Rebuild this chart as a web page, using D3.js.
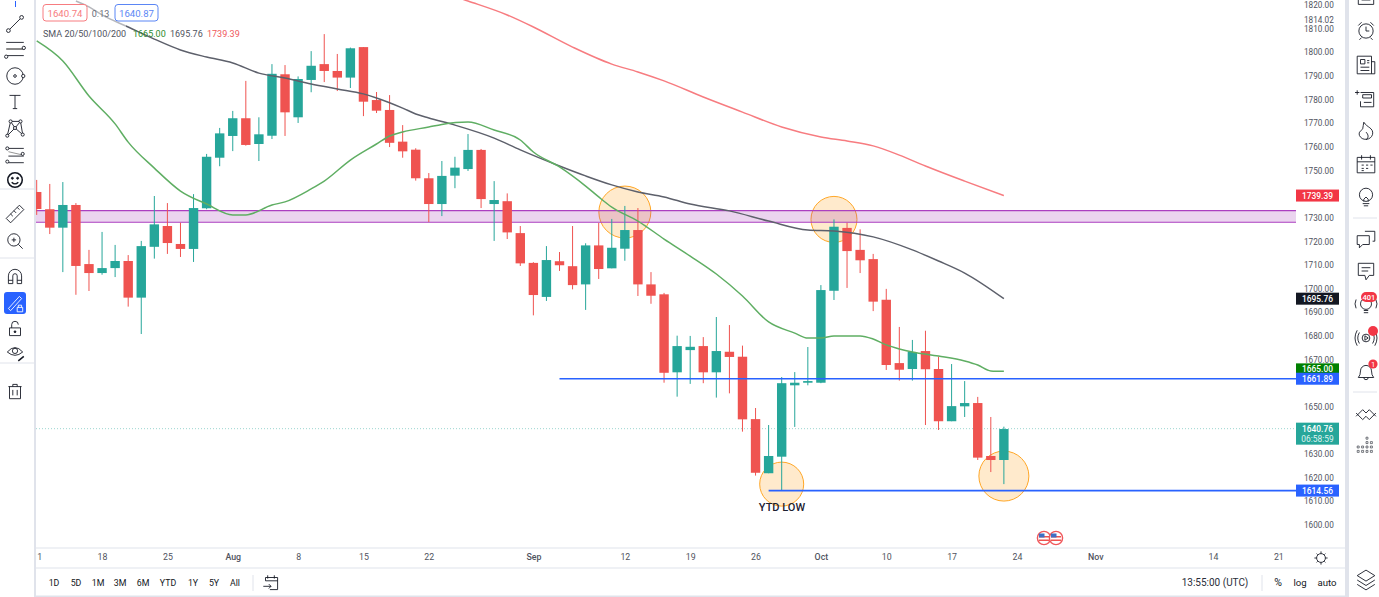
<!DOCTYPE html>
<html><head><meta charset="utf-8">
<style>html,body{margin:0;padding:0;background:#fff;overflow:hidden}svg{display:block}text{font-family:Roboto,sans-serif}</style>
<script src="https://cdn.jsdelivr.net/npm/d3@7"></script>
</head><body><svg id="c" width="1379" height="597"></svg>
<script>
// ---------- data (prices), one entry per trading day
const opens=[1740.9,1733.6,1725.8,1735.4,1710.4,1706.6,1708.7,1711.7,1696.2,1717.7,1726.5,1718.9,1716.8,1734.0,1755.4,1764.6,1772.1,1761.2,1764.7,1790.7,1772.5,1788.3,1795.0,1792.1,1789.3,1802.2,1779.8,1775.6,1762.2,1758.8,1746.7,1735.8,1747.8,1750.6,1758.7,1735.8,1737.0,1723.5,1710.9,1696.5,1711.6,1709.5,1701.8,1718.3,1708.6,1716.9,1724.8,1701.8,1697.6,1664.6,1674.0,1675.7,1664.6,1673.3,1671.2,1644.8,1621.9,1628.9,1659.1,1660.2,1660.2,1699.1,1725.7,1716.4,1712.5,1695.3,1668.5,1666.0,1673.6,1666.0,1643.9,1650.2,1651.6,1629.2,1627.5];
const highs=[1746.0,1744.3,1745.1,1736.2,1716.4,1724.0,1718.5,1714.2,1720.2,1739.2,1736.2,1727.9,1740.0,1757.0,1768.0,1775.2,1787.9,1772.5,1795.0,1794.6,1789.8,1800.5,1807.7,1799.3,1802.0,1802.2,1783.2,1781.9,1769.2,1759.4,1748.9,1754.0,1755.8,1765.4,1759.1,1745.5,1740.3,1726.5,1711.2,1718.0,1715.5,1726.5,1719.2,1727.8,1729.5,1735.0,1734.1,1707.0,1698.2,1680.1,1680.0,1679.5,1688.0,1684.6,1675.9,1649.5,1642.3,1662.6,1664.7,1675.3,1701.5,1729.3,1727.9,1725.1,1714.7,1699.9,1683.8,1678.3,1682.2,1671.2,1668.1,1660.9,1654.2,1645.7,1641.6];
const lows=[1731.2,1723.1,1707.0,1697.4,1699.0,1705.9,1704.9,1692.4,1680.8,1712.7,1714.7,1713.4,1711.3,1733.6,1751.8,1758.2,1760.5,1754.0,1763.3,1764.6,1770.1,1783.1,1787.4,1783.6,1784.9,1773.0,1774.3,1759.9,1755.4,1745.7,1728.2,1730.7,1742.5,1749.8,1734.1,1720.2,1721.0,1709.6,1688.7,1694.8,1707.5,1699.7,1691.0,1704.1,1708.6,1711.8,1696.9,1693.6,1660.2,1654.3,1659.7,1660.0,1653.9,1655.7,1639.5,1620.9,1621.9,1614.8,1641.5,1659.1,1660.0,1695.2,1700.3,1706.6,1690.5,1665.6,1661.1,1661.1,1642.3,1640.2,1643.9,1645.7,1627.5,1622.4,1617.3];
const closes=[1733.7,1725.8,1735.4,1709.6,1706.6,1708.7,1711.7,1696.2,1718.0,1727.2,1719.3,1716.8,1734.1,1755.8,1765.7,1772.1,1760.8,1765.3,1790.9,1774.6,1788.7,1794.3,1792.1,1789.3,1801.7,1779.1,1775.3,1761.7,1758.1,1746.7,1735.8,1747.7,1751.2,1758.7,1737.9,1737.5,1723.8,1710.7,1697.3,1712.1,1709.9,1701.5,1718.3,1708.3,1717.3,1724.8,1701.8,1697.0,1664.4,1675.7,1675.4,1664.6,1673.6,1671.1,1644.7,1622.1,1629.2,1660.0,1660.2,1660.9,1699.4,1726.2,1715.9,1712.0,1694.5,1667.7,1665.7,1673.2,1665.9,1643.9,1650.3,1651.6,1628.5,1627.5,1640.6];

const sma20Idx=[0,2,4,6,7,9,11,13,15,16,18,19,21,22,24,26,27,28,30,31,33,35,37,38,40,42,43,44,46,48,50,52,54,56,58,59,60,61,63,64,65,66,67,69,71,72,73,74];
const sma20Val=[1804.8,1796.3,1781.5,1769.7,1762.0,1751.0,1741.3,1735.8,1731.2,1731.2,1735.4,1736.7,1742.2,1745.5,1754.4,1761.2,1764.6,1766.3,1768.4,1769.5,1770.5,1767.1,1762.9,1757.8,1751.5,1743.4,1738.8,1734.5,1728.6,1721.0,1713.8,1706.2,1696.9,1685.9,1681.2,1679.1,1679.1,1680.0,1680.0,1678.7,1676.2,1674.5,1673.2,1671.5,1669.4,1667.7,1665.2,1665.0];
const sma50Idx=[3,4,5,7,9,11,13,15,17,19,21,23,25,26,28,29,30,32,35,37,40,42,44,46,48,50,53,56,59,61,64,67,69,71,74];
const sma50Val=[1821.7,1819.2,1815.8,1810.7,1805.6,1801.0,1798.0,1795.5,1791.2,1789.1,1786.6,1784.5,1782.4,1780.7,1776.4,1773.9,1772.2,1769.2,1763.7,1758.7,1751.9,1747.7,1743.9,1740.9,1738.8,1735.8,1732.9,1728.6,1724.8,1724.4,1721.9,1716.4,1711.7,1706.6,1695.76];
const sma200Idx=[30,33,36,38,41,44,46,48,51,54,57,60,62,64,66,68,71,74];
const sma200Val=[1827.2,1821.7,1815.8,1810.7,1802.2,1795.0,1791.7,1787.9,1781.1,1774.7,1768.4,1764.2,1762.5,1760.4,1756.5,1751.9,1745.5,1739.39];

const priceTicks=[1600,1610,1620,1630,1650,1670,1680,1690,1700,1710,1720,1730,1750,1760,1770,1780,1790,1800,1810,1820];
const timeIdx=[0,5,10,15,20,25,30,38,45,50,55,60,65,70,75,81,90,95];
const timeLabels=["11","18","25","Aug","8","15","22","Sep","12","19","26","Oct","10","17","24","Nov","14","21"];

const zonePrices=[1733,1728.1];
const levelPrices=[1661.89,1614.56];
const levelStart=[40,56];
const circleIdx=[45,61,57,74];
const circlePrice=[1732.4,1729.3,1617.3,1620.7];
const circleR=[26,23,22,25];
const lastPrice=1640.76;
const tagVals=["1739.39","1695.76","1665.00","1661.89","1614.56"];
const tagColors=["#f23645","#131722","#008000","#2962ff","#2962ff"];
const tagNudge=[0,0,-2,0,0];
const ranges=["1D","5D","1M","3M","6M","YTD","1Y","5Y","All"];

// ---------- scales
const x=d3.scaleLinear().domain([0,95]).range([36.7,1278.35]);
const y=d3.scaleLinear().domain([1600,1820]).range([525,52.3-(20*2.3635)]);
const svg=d3.select("#c");
const UP="#26a69a",DN="#ef5350";

svg.append("defs").append("clipPath").attr("id","plot").append("rect")
  .attr("x",36).attr("y",0).attr("width",1260).attr("height",548);
const plot=svg.append("g").attr("clip-path","url(#plot)");

// last price dotted
plot.append("line").attr("x1",36).attr("x2",1296).attr("y1",y(lastPrice)).attr("y2",y(lastPrice))
  .attr("stroke","#26a69a").attr("stroke-width",1).attr("stroke-dasharray","1 2").attr("opacity",.45);

// circles (under the candles)
plot.selectAll(".ci").data(circleIdx).enter().append("circle")
  .attr("cx",d=>x(d)).attr("cy",(d,i)=>y(circlePrice[i])).attr("r",(d,i)=>circleR[i])
  .attr("fill","#ff9800").attr("fill-opacity",.2).attr("stroke","#ffa726").attr("stroke-width",1);

// zone
plot.append("rect").attr("x",36).attr("width",1260).attr("y",y(zonePrices[0])).attr("height",y(zonePrices[1])-y(zonePrices[0]))
  .attr("fill","#9c27b0").attr("fill-opacity",.2);
plot.selectAll(".zl").data(zonePrices).enter().append("line").attr("x1",36).attr("x2",1296)
  .attr("y1",d=>y(d)).attr("y2",d=>y(d)).attr("stroke","#ab3fc0").attr("stroke-width",1.2);

// candles
const rows=opens.map((o,i)=>({i,o,h:highs[i],l:lows[i],c:closes[i]}));
plot.selectAll(".w").data(rows).enter().append("line")
  .attr("x1",d=>x(d.i)).attr("x2",d=>x(d.i)).attr("y1",d=>y(d.h)).attr("y2",d=>y(d.l))
  .attr("stroke",d=>d.c>=d.o?UP:DN).attr("stroke-width",1);
plot.selectAll(".b").data(rows).enter().append("rect")
  .attr("x",d=>x(d.i)-4.7).attr("width",9.4)
  .attr("y",d=>y(Math.max(d.o,d.c))).attr("height",d=>Math.max(1,Math.abs(y(d.o)-y(d.c))))
  .attr("fill",d=>d.c>=d.o?UP:DN);

// SMAs
const lineOf=(idx,val,col,w)=>plot.append("path")
  .attr("d",d3.line().x(d=>x(d[0])).y(d=>y(d[1])).curve(d3.curveMonotoneX)(idx.map((k,j)=>[k,val[j]])))
  .attr("fill","none").attr("stroke",col).attr("stroke-width",w);
lineOf(sma200Idx,sma200Val,"#f77c80",1.5);
lineOf(sma50Idx,sma50Val,"#5d606b",1.5);
lineOf(sma20Idx,sma20Val,"#5fae63",1.5);

// level lines
plot.selectAll(".lv").data(levelPrices).enter().append("line")
  .attr("x1",(d,i)=>x(levelStart[i])).attr("x2",1296).attr("y1",d=>y(d)).attr("y2",d=>y(d))
  .attr("stroke","#2962ff").attr("stroke-width",1.6);

plot.append("text").attr("x",782).attr("y",511).attr("text-anchor","middle")
  .attr("font-size",11).attr("font-weight",500).attr("fill","#1c2030").text("YTD LOW");

// flags
[1044,1056].forEach(cx=>{
  const g=svg.append("g");
  g.append("circle").attr("cx",cx).attr("cy",538).attr("r",6.6).attr("fill","#fff").attr("stroke","#f0575b").attr("stroke-width",1.4);
  [536,539.5].forEach(yy=>g.append("rect").attr("x",cx-5).attr("y",yy).attr("width",10).attr("height",1.5).attr("fill","#ef5350"));
  g.append("rect").attr("x",cx-5).attr("y",533.5).attr("width",5.5).attr("height",4).attr("fill","#3f6fc4");
});

// legend
plot.append("rect").attr("x",36).attr("y",0).attr("width",90).attr("height",27).attr("fill","#fff").attr("opacity",.55);
const box=(x0,w,col,t)=>{
  svg.append("rect").attr("x",x0).attr("y",4.5).attr("width",w).attr("height",16.5).attr("rx",3)
    .attr("fill","#fff").attr("stroke",col).attr("stroke-width",1);
  svg.append("text").attr("x",x0+w/2).attr("y",16.5).attr("text-anchor","middle").attr("font-size",9.6).attr("fill",col).text(t);
};
box(43,44,"#f77c80","1640.74");
box(115,43,"#5b86f5","1640.87");
svg.append("text").attr("x",100.5).attr("y",16.5).attr("text-anchor","middle").attr("font-size",9).attr("fill","#6a6d78").text("0.13");
const leg=(t,xx,c)=>svg.append("text").attr("x",xx).attr("y",37).attr("font-size",9).attr("fill",c).text(t);
leg("SMA 20/50/100/200",43,"#50535e");leg("1665.00",133,"#2e8b2e");leg("1695.76",170,"#50535e");leg("1739.39",207,"#f0575b");

// chrome strips
const chrome="#e0e3eb";
svg.append("rect").attr("x",34).attr("y",0).attr("width",2).attr("height",597).attr("fill",chrome);
svg.append("rect").attr("x",1345).attr("y",0).attr("width",4).attr("height",597).attr("fill",chrome);
svg.append("rect").attr("x",34).attr("y",595.5).attr("width",1315).attr("height",1.5).attr("fill",chrome);
svg.append("rect").attr("x",36).attr("y",547.5).attr("width",1309).attr("height",1).attr("fill",chrome);
svg.append("rect").attr("x",36).attr("y",567.5).attr("width",1309).attr("height",1).attr("fill",chrome);

// axes
const axisG=svg.append("g").attr("transform","translate(1296,0)")
  .call(d3.axisRight(y).tickValues(priceTicks).tickSize(0).tickPadding(8).tickFormat(d3.format(".2f")));
axisG.select(".domain").remove();
axisG.selectAll("text").attr("font-family","Roboto,sans-serif").attr("font-size",8.2).attr("fill","#50535e").attr("font-weight",400);
svg.append("text").attr("x",1304).attr("y",22.5).attr("font-size",8.2).attr("fill","#50535e").text("1814.02");

svg.append("defs").append("clipPath").attr("id","tclip").append("rect").attr("x",36).attr("y",0).attr("width",1260).attr("height",20);
const tAxis=svg.append("g").attr("transform","translate(0,548)").attr("clip-path","url(#tclip)")
  .call(d3.axisBottom(x).tickValues(timeIdx).tickSize(0).tickPadding(6).tickFormat((d,i)=>timeLabels[i]));
tAxis.select(".domain").remove();
tAxis.selectAll("text").attr("font-family","Roboto,sans-serif").attr("font-size",8.8).attr("fill","#50535e");
tAxis.selectAll("text").filter(function(){return ["Aug","Sep","Oct","Nov"].includes(d3.select(this).text())}).attr("font-weight",500);

// price tags
const tag=(val,col,n)=>{
  const yy=y(+val)+n;
  svg.append("rect").attr("x",1296).attr("y",yy-6).attr("width",43).attr("height",12).attr("fill",col);
  svg.append("text").attr("x",1317.5).attr("y",yy+3).attr("text-anchor","middle").attr("font-size",8.4).attr("font-weight",500).attr("fill","#fff").text(val);
};
tagVals.forEach((t,i)=>tag(t,tagColors[i],tagNudge[i]));
svg.append("rect").attr("x",1296).attr("y",y(lastPrice)-6).attr("width",43).attr("height",22).attr("fill",UP);
svg.append("text").attr("x",1317.5).attr("y",y(lastPrice)+3).attr("text-anchor","middle").attr("font-size",8.4).attr("font-weight",500).attr("fill","#fff").text(lastPrice.toFixed(2));
svg.append("text").attr("x",1317.5).attr("y",y(lastPrice)+13).attr("text-anchor","middle").attr("font-size",8.4).attr("fill","#dff3f0").text("06:58:59");

// bottom bar
const rx=[54,76,98,120,143,168,193,214,235];
const bt=(t,xx,o={})=>svg.append("text").attr("x",xx).attr("y",o.y||586).attr("text-anchor","middle").attr("font-size",o.s||8.8).attr("fill",o.c||"#131722").text(t);
ranges.forEach((r,i)=>bt(r,rx[i]));
bt("13:55:00 (UTC)",1215,{s:10,c:"#2a2e39"});bt("%",1278,{s:10.5});bt("log",1300,{s:9.6});bt("auto",1327,{s:9.6});
[[253,575,591],[1262,575,591]].forEach(a=>svg.append("line").attr("x1",a[0]).attr("x2",a[0]).attr("y1",a[1]).attr("y2",a[2]).attr("stroke",chrome));

// ---------- icons
const ic=(cx,cy)=>svg.append("g").attr("transform",`translate(${cx},${cy}) scale(1.1)`).attr("fill","none");
const P=(g,d,o={})=>g.append("path").attr("d",d).attr("stroke",o.s||"#131722").attr("fill",o.f||"none").attr("stroke-width",o.w||.8);
const C=(g,a,b,r,o={})=>g.append("circle").attr("cx",a).attr("cy",b).attr("r",r).attr("stroke",o.s||"#131722").attr("fill",o.f||"none").attr("stroke-width",o.w||.8);
// calendar-arrow in bottom bar
let g=ic(271,583);P(g,"M-5-2V-5H6V6H-1M-5-2H6M-3-7V-4M3-7V-4M-7 3H0M-2 1L0 3-2 5");
// gear
g=ic(1321,558);C(g,0,0,4);P(g,"M0-6V-4M0 4V6M-6 0H-4M4 0H6M-4-4L-3-3M3 3L4 4M4-4L3-3M-3 3L-4 4");
// layers
g=ic(1366,580);P(g,"M0-9L8-4 0 1-8-4ZM-8 0L0 5 8 0M-8 4L0 9 8 4");
// left toolbar
svg.append("line").attr("x1",15.5).attr("x2",15.5).attr("y1",1).attr("y2",7).attr("stroke","#2962ff");
g=ic(15,24);P(g,"M-6 6L6-6");C(g,-6,6,1.7,{f:"#fff"});C(g,6,-6,1.7,{f:"#fff"});
g=ic(15,49);P(g,"M-8-6H8M-8 6H8");P(g,"M-8 0H8",{w:1.8,s:"#888"});C(g,8,-1,1.5,{f:"#fff"});C(g,-8,7,1.5,{f:"#fff"});
g=ic(15,76);C(g,0,0,7.5);C(g,0,0,1.2);C(g,7.5,0,1.5,{f:"#fff"});
g=ic(15,102);P(g,"M-5-6H5M0-6V6M-2 6H2");
g=ic(15,128);P(g,"M-7 7L-4-6 0 0 5-6 7 6M-4-6L5-6M-7 7L0 0 7 6");[[-7,7],[-4,-6],[0,0],[5,-6],[7,6]].forEach(a=>C(g,a[0],a[1],1.4,{f:"#fff"}));
g=ic(15,155);P(g,"M-6-6H8M-6 1H8M-6 7H8");P(g,"M-6-3L7 0",{s:"#888"});C(g,-7,-6,1.4,{f:"#fff"});C(g,7,-1,1.4,{f:"#fff"});C(g,-7,6,1.4,{f:"#fff"});
g=ic(15,180);C(g,0,0,6.6,{w:1.4});C(g,-2.4,-1.6,.9,{f:"#131722"});C(g,2.4,-1.6,.9,{f:"#131722"});P(g,"M-3 2Q0 5 3 2",{w:1.2});
g=ic(15,214);P(g,"M-8 4L4-8 8-4-4 8ZM-4 0L-2 2M-1-3L1-1M2-6L4-4");
g=ic(15,241);C(g,-1,-1,5.6);P(g,"M3 3L7 7M-3-1H1M-1-3V1");
g=ic(15,277);P(g,"M-6 6V-1A6 6 0 0 1 6-1V6H2V-1A2 2 0 0 0-2-1V6ZM-6 3H-2M2 3H6");
svg.append("rect").attr("x",4).attr("y",292).attr("width",22).attr("height",22).attr("rx",3).attr("fill","#2962ff");
g=ic(15,303);P(g,"M-6 5L4-6 6-4-4 7Z",{s:"#fff"});P(g,"M2 4H7V8H2ZM3 4V2H6V4",{s:"#fff"});
g=ic(15,329);P(g,"M-5-1H5V6H-5ZM-3-1V-4A3 3 0 0 1 3-4");C(g,0,2.5,.8,{f:"#131722"});
g=ic(15,352);P(g,"M-7 0Q0-8 7 0Q0 6-7 0Z");C(g,0,-1,2.4);P(g,"M3 8L8 4",{w:1.4});
g=ic(15,391);P(g,"M-6-4H6M-2-4V-6H2V-4M-5-4V7H5V-4M-2-1V4M2-1V4");
[189,258,363].forEach(yy=>svg.append("line").attr("x1",0).attr("x2",34).attr("y1",yy).attr("y2",yy).attr("stroke",chrome));
// right toolbar
g=ic(1366,0);P(g,"M-7-5V4H7V-5M-4 0H4");
g=ic(1366,31);C(g,0,0,6.5);P(g,"M0-4V0H3M-7-5L-4-8M7-5L4-8M-4 6L-6 8M4 6L6 8");
g=ic(1366,65);P(g,"M-8-8H5V8H-8ZM5-3H8V8H5M-5-5H-1V-1H-5ZM1-4H3M1-2H3M-5 2H3M-5 5H3");
g=ic(1366,98);P(g,"M-5-5H7V8H-5V3M-3-3H5V0H-3ZM-2 4H5M-8-7V-3M-10-5H-6");
g=ic(1366,131);P(g,"M-2-8C1-3 7-3 6 3A6.5 6.5 0 0 1-6 4C-7 0-4 0-3-2C-3-4-2-6-2-8ZM0 8C3 6 2 3 0 1");
g=ic(1366,164);P(g,"M-8-6H8V8H-8ZM-8-2H8M-4-8V-4M4-8V-4M-4 1H-2M0 1H2M4 1H6M-4 4H-2M0 4H2M-4 6H-2");
g=ic(1366,197);C(g,0,-2,6);P(g,"M-3 6H3M-2 8H2M-2 4V2L0 0 2 2V4");
svg.append("line").attr("x1",1353).attr("x2",1377).attr("y1",218).attr("y2",218).attr("stroke",chrome);
g=ic(1366,239);P(g,"M-1-7H8V2H6M-8-3H3V5H-3L-6 8V5H-8Z");
g=ic(1366,271);P(g,"M-7-7H7V4H3L0 8-1 4H-7ZM-4-3H4M-4 0H2");
g=ic(1366,305);C(g,0,-1,5);P(g,"M-2 5H2M-2 7H2M-9-5Q-11-1-9 3M9-5Q11-1 9 3");
svg.append("rect").attr("x",1361).attr("y",292).attr("width",16).attr("height",10).attr("rx",5).attr("fill","#f23645");
svg.append("text").attr("x",1369).attr("y",300).attr("text-anchor","middle").attr("font-size",7.5).attr("font-weight",500).attr("fill","#fff").text("401");
g=ic(1366,338);C(g,0,0,3.5);P(g,"M-1-2L2 0-1 2ZM-6-5Q-9 0-6 5M6-5Q9 0 6 5M-8-7Q-12 0-8 7M8-7Q12 0 8 7");
svg.append("circle").attr("cx",1373).attr("cy",331).attr("r",5).attr("fill","#f23645");
g=ic(1366,372);P(g,"M-7 5Q-5 3-5-1A5 5 0 0 1 5-1Q5 3 7 5ZM-2 5A2 2 0 0 0 2 5");
svg.append("circle").attr("cx",1373).attr("cy",364).attr("r",4.6).attr("fill","#f23645");
svg.append("text").attr("x",1373).attr("y",366.8).attr("text-anchor","middle").attr("font-size",7.5).attr("fill","#fff").text("1");
svg.append("line").attr("x1",1353).attr("x2",1377).attr("y1",392).attr("y2",392).attr("stroke",chrome);
g=ic(1366,413);P(g,"M-9 3L-3-3 0 0 3-3 9 3M-9 0L-3 6 0 3 3 6 9 0");
g=ic(1366,446);[[-8,4],[-4,4],[-8,0],[-4,0],[0,-4],[4,-4],[0,0],[4,0],[0,4],[4,4],[0,-8]].forEach(a=>P(g,`M${a[0]} ${a[1]}h1.8v1.8h-1.8z`,{w:.5}));
</script></body></html>
